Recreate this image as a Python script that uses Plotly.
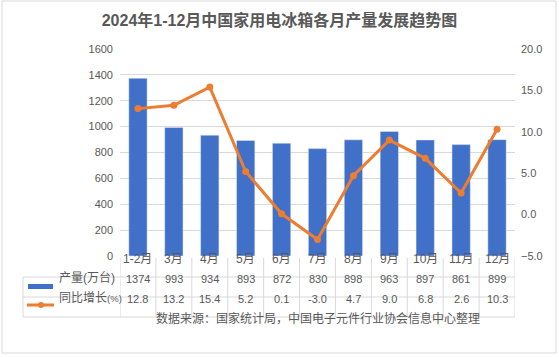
import plotly.graph_objects as go

categories = ["1-2月", "3月", "4月", "5月", "6月", "7月", "8月", "9月", "10月", "11月", "12月"]
output = [1374, 993, 934, 893, 872, 830, 898, 963, 897, 861, 899]
growth = [12.8, 13.2, 15.4, 5.2, 0.1, -3.0, 4.7, 9.0, 6.8, 2.6, 10.3]
series_names = ["产量(万台)", "同比增长(%)"]
title_text = "2024年1-12月中国家用电冰箱各月产量发展趋势图"
source_text = "数据来源：国家统计局，中国电子元件行业协会信息中心整理"

W, H = 559, 357
L, R, T, B = 120, 515, 49, 256
PW, PH = R - L, B - T
FONT = "Liberation Sans, Noto Sans CJK SC"
TXT = "#595959"
GRID = "#d9d9d9"
BAR = "#4070c8"
LINE = "#ed7d31"


def py(p):
    return (B - p) / PH


def px(p):
    return (p - L) / PW


fig = go.Figure()
fig.add_trace(go.Bar(x=list(range(len(categories))), y=output, marker_color=BAR,
                     width=0.51, name=series_names[0], yaxis="y"))
fig.add_trace(go.Scatter(x=list(range(len(categories))), y=growth, mode="lines+markers",
                         line=dict(color=LINE, width=3), marker=dict(size=7, color=LINE),
                         name=series_names[1], yaxis="y2"))

shapes = []
annotations = []
n = len(categories)
# table lines
row_tops = [258, 277, 297, 317]
for yy in row_tops[1:]:
    shapes.append(dict(type="line", xref="paper", yref="paper", x0=px(23), x1=1,
                       y0=py(yy), y1=py(yy), line=dict(color=GRID, width=1)))
for i in range(n + 1):
    shapes.append(dict(type="line", xref="x", yref="paper", x0=i - 0.5, x1=i - 0.5,
                       y0=py(258), y1=py(317), line=dict(color=GRID, width=1)))
shapes.append(dict(type="line", xref="paper", yref="paper", x0=px(23), x1=px(23),
                   y0=py(277), y1=py(317), line=dict(color=GRID, width=1)))
# outer border
shapes.append(dict(type="rect", xref="paper", yref="paper", x0=px(2), x1=px(556),
                   y0=py(353), y1=py(1), line=dict(color=GRID, width=1)))
# legend symbols in table
shapes.append(dict(type="rect", xref="paper", yref="paper", x0=px(28), x1=px(53),
                   y0=py(289), y1=py(284), fillcolor=BAR, line=dict(width=0)))
shapes.append(dict(type="line", xref="paper", yref="paper", x0=px(27), x1=px(54),
                   y0=py(305), y1=py(305), line=dict(color=LINE, width=3)))
shapes.append(dict(type="circle", xref="paper", yref="paper", x0=px(38), x1=px(44),
                   y0=py(308), y1=py(302), fillcolor=LINE, line=dict(width=0)))

f = dict(family=FONT, size=11, color=TXT)
fcat = dict(family=FONT, size=12, color=TXT)
flab = dict(family="Liberation Sans, Noto Sans CJK SC", size=12, color=TXT)
fc = dict(family="Noto Sans CJK SC", size=12, color=TXT)
for i, c in enumerate(categories):
    annotations.append(dict(x=i, y=py(267.5), xref="x", yref="paper", text=c,
                            showarrow=False, font=fcat))
    annotations.append(dict(x=i, y=py(287), xref="x", yref="paper", text=str(output[i]),
                            showarrow=False, font=f))
    annotations.append(dict(x=i, y=py(307), xref="x", yref="paper", text=f"{growth[i]:.1f}",
                            showarrow=False, font=f))
annotations.append(dict(x=px(57), y=py(287), xref="paper", yref="paper", text=series_names[0],
                        showarrow=False, font=flab, xanchor="left"))
lab2 = series_names[1].replace("(%)", "<span style='font-size:9.5px'>(%)</span>")
annotations.append(dict(x=px(57), y=py(307), xref="paper", yref="paper", text=lab2,
                        showarrow=False, font=flab, xanchor="left"))
annotations.append(dict(x=px(318), y=py(328), xref="paper", yref="paper", text=source_text,
                        showarrow=False, font=fc))

fig.update_layout(
    width=W, height=H,
    margin=dict(l=L, r=W - R, t=T, b=H - B, pad=0),
    paper_bgcolor="white", plot_bgcolor="white",
    showlegend=False,
    title=dict(text=title_text, x=0.5, xanchor="center", y=1 - 20 / H, yanchor="middle",
               font=dict(family=FONT, size=16, color=TXT, weight="bold")),
    xaxis=dict(range=[-0.5, n - 0.5], showticklabels=False, showgrid=False, zeroline=False,
               ticks="", automargin=False),
    yaxis=dict(range=[0, 1600], dtick=200, showgrid=True, gridcolor=GRID, gridwidth=1,
               zeroline=False, tickfont=f, ticks="", ticklabelstandoff=6, automargin=False),
    yaxis2=dict(range=[-5, 20], dtick=5, overlaying="y", side="right", showgrid=False,
                zeroline=False, tickformat=".1f", tickfont=f, ticks="", ticklabelstandoff=5,
                automargin=False),
    shapes=shapes, annotations=annotations,
    bargap=0.49,
)
fig.write_html("out.html", post_script="document.body.style.margin='0';",
               config={"displayModeBar": False})
